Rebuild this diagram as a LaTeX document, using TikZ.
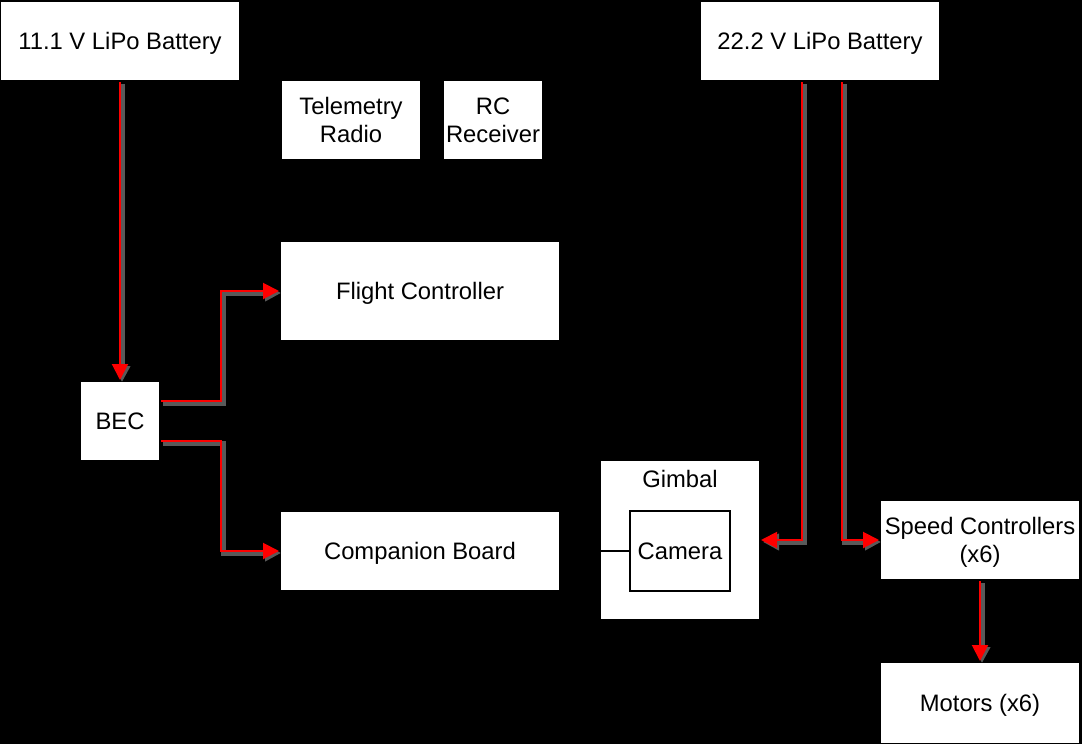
\documentclass[tikz,border=0pt]{standalone}
\usepackage{fontspec}
\setmainfont{Liberation Sans}
\usetikzlibrary{positioning,arrows.meta}
\tikzset{
  box/.style={draw=black, fill=white, line width=1pt, align=center, inner sep=0pt,
    font=\fontsize{11.9}{14.3}\selectfont, text depth=0pt},
  pwr/.style={draw=red, line width=1pt, -{Triangle[length=8pt,width=8pt]},
    preaction={draw=black!65, line width=2.5pt, transform canvas={shift={(1pt,-1pt)}}}},
  sig/.style={draw=black, line width=1pt},
}

\begin{document}
\begin{tikzpicture}[x=0.5pt, y=-0.5pt]
            \fill[black] (0,0) rectangle (1082,744);
            \useasboundingbox (0,0) rectangle (1082,744);
            % batteries
            \node[box, minimum width=120pt, minimum height=40pt] (bat11) at (120,41) {11.1 V LiPo Battery};
            \node[box, minimum width=120pt, minimum height=40pt] (bat22) at (820,41) {22.2 V LiPo Battery};
            % radios
            \node[box, minimum width=70pt, minimum height=40pt] (telem) at (351,120) {Telemetry\\Radio};
            \node[box, minimum width=50pt, minimum height=40pt, right=10pt of telem] (rcrx) {RC\\Receiver};
            % boards
            \node[box, minimum width=140pt, minimum height=50pt] (fc) at (420,291) {Flight Controller};
            \node[box, minimum width=40pt, minimum height=40pt] (bec) at (120,421) {BEC};
            \node[box, minimum width=140pt, minimum height=40pt] (comp) at (420,551) {Companion Board};
            % gimbal
            \node[box, minimum width=80pt, minimum height=80pt,
                  label={[anchor=north, yshift=-2pt, font=\fontsize{11.9}{14.3}\selectfont]north:Gimbal}] (gimbal) at (680,540) {};
            \node[box, minimum width=50pt, minimum height=40pt] (camera) at (680,551) {Camera};
            % drive
            \node[box, minimum width=100pt, minimum height=40pt] (esc) at (980,540) {Speed Controllers\\(x6)};
            \node[box, minimum width=100pt, minimum height=41pt, below=40pt of esc] (motors) {Motors (x6)};

            \draw[sig] (comp.east) -- (camera.west);
            \draw[sig, -{Triangle[length=5pt,width=5pt]}] ([yshift=13pt]fc.east) -| (esc.north);

            \draw[pwr] (bat11.south) -- (bec.north);
            \draw[pwr] ([yshift=10pt]bec.east) -- ++(30pt,0) |- (fc.west);
            \draw[pwr] ([yshift=-10pt]bec.east) -- ++(30pt,0) |- (comp.west);
            \draw[pwr] ([xshift=-9pt]bat22.south) |- (gimbal.east);
            \draw[pwr] ([xshift=11pt]bat22.south) |- (esc.west);
            \draw[pwr] (esc.south) -- (motors.north);
\end{tikzpicture}
\end{document}
